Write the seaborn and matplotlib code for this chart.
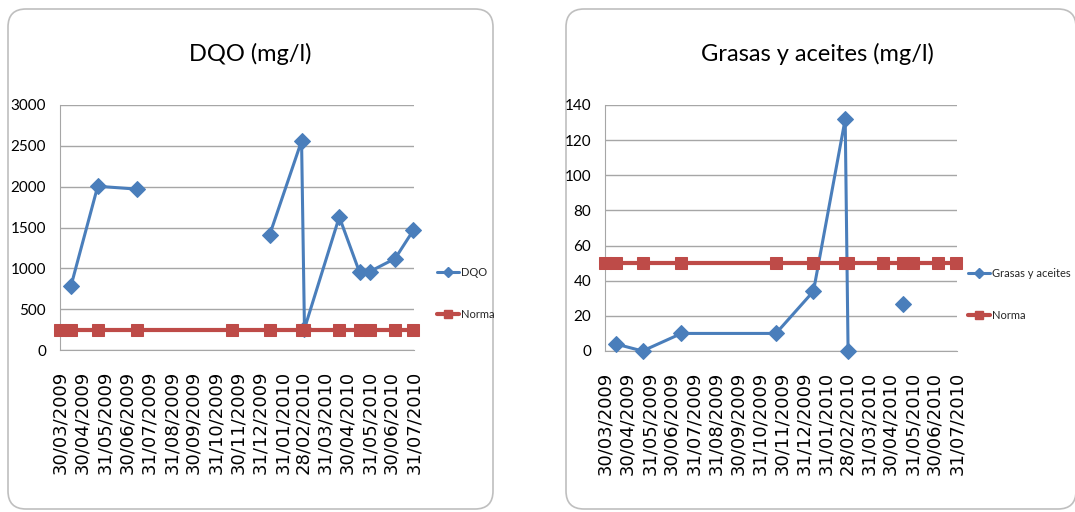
import numpy as np
import pandas as pd
import matplotlib
matplotlib.use("Agg")
import matplotlib.pyplot as plt
from matplotlib.patches import FancyBboxPatch
from matplotlib.lines import Line2D
import seaborn as sns

# --- datos ---
fechas = pd.to_datetime([
    "2009-03-30", "2009-04-14", "2009-05-21", "2009-07-14", "2009-11-22",
    "2010-01-13", "2010-02-26", "2010-03-02", "2010-04-19", "2010-05-17",
    "2010-05-31", "2010-07-05", "2010-07-30",
])
dqo = [np.nan, 780, 2005, 1970, np.nan, 1410, 2560, 260, 1630, 950, 960, 1120, 1465]
norma_dqo = [250, 250, 250, 250, 250, 250, 250, 250, 250, 250, 250, 250, 250]
grasas = [np.nan, 4, 0, 10, 10, 34, 132, 0, np.nan, 27, np.nan, np.nan, np.nan]
norma_grasas = [50, 50, 50, 50, 50, 50, 50, 50, 50, 50, 50, 50, 50]

etiquetas_x = [
    "30/03/2009", "30/04/2009", "31/05/2009", "30/06/2009", "31/07/2009",
    "31/08/2009", "30/09/2009", "31/10/2009", "30/11/2009", "31/12/2009",
    "31/01/2010", "28/02/2010", "31/03/2010", "30/04/2010", "31/05/2010",
    "30/06/2010", "31/07/2010",
]

AZUL = "#4A7EBB"
ROJO = "#BE4B48"
GRIS = "#A6A6A6"
ESTRECHA = ["Lato", "DejaVu Sans"]

sns.set_style("white")
plt.rcParams["font.family"] = ["DejaVu Sans"]


def tramos(valores):
    # separa la serie en tramos donde hay huecos (Excel no une los vacios)
    df = pd.DataFrame({"fecha": fechas, "valor": valores})
    df["tramo"] = df["valor"].isna().cumsum()
    return df.dropna()


def panel(ax, serie, norma, nombre, ymax, paso, x_leyenda):
    sns.lineplot(data=tramos(serie), x="fecha", y="valor", units="tramo",
                 estimator=None, color=AZUL, lw=2.2, marker="D", markersize=8,
                 markeredgecolor=AZUL, ax=ax, legend=False, clip_on=False, zorder=3)
    sns.lineplot(data=tramos(norma), x="fecha", y="valor", units="tramo",
                 estimator=None, color=ROJO, lw=3, marker="s", markersize=8,
                 markeredgecolor=ROJO, ax=ax, legend=False, clip_on=False, zorder=4)

    ticks = pd.to_datetime(etiquetas_x, format="%d/%m/%Y")
    ax.set_xlim(ticks[0], ticks[-1])
    ax.set_xticks(ticks)
    ax.set_xticklabels(etiquetas_x, rotation=90, fontsize=13, color="black")
    ax.tick_params(axis="x", length=0, pad=15)

    ax.set_ylim(0, ymax)
    ax.set_yticks(np.arange(0, ymax + 1, paso))
    ax.set_yticklabels([str(v) for v in np.arange(0, ymax + 1, paso)],
                       family=ESTRECHA, fontsize=11, color="black")
    ax.tick_params(axis="y", length=0, pad=10)

    ax.grid(axis="y", color=GRIS, lw=1)
    ax.grid(axis="x", visible=False)
    for lado in ["top", "right"]:
        ax.spines[lado].set_visible(False)
    for lado in ["left", "bottom"]:
        ax.spines[lado].set_color(GRIS)
    ax.set_xlabel("")
    ax.set_ylabel("")
    ax.set_facecolor("none")

    handles = [
        Line2D([], [], color=AZUL, lw=2.2, marker="D", markersize=5),
        Line2D([], [], color=ROJO, lw=3, marker="s", markersize=6),
    ]
    ax.legend(handles, [nombre, "Norma"], loc="center left",
              bbox_to_anchor=(x_leyenda, 0.23), frameon=False, borderpad=0,
              labelspacing=2.8, handlelength=2.0, handletextpad=0.15,
              prop={"family": ESTRECHA, "size": 8})


fig = plt.figure(figsize=(10.75, 5.12), dpi=100)

# marcos redondeados de cada grafico
for x0, x1 in [(0.08, 4.93), (5.66, 10.76)]:
    caja = FancyBboxPatch((x0, 0.03), x1 - x0, 5.0, boxstyle="round,pad=0,rounding_size=0.18",
                          transform=fig.dpi_scale_trans, facecolor="white",
                          edgecolor="#BFBFBF", lw=1.2, zorder=-5)
    fig.patches.append(caja)

ax1 = fig.add_axes([60 / 1075, 162 / 512, 354 / 1075, 245 / 512])
ax2 = fig.add_axes([605 / 1075, 161 / 512, 352 / 1075, 246 / 512])

panel(ax1, dqo, norma_dqo, "DQO", 3000, 500, 1.05)
panel(ax2, grasas, norma_grasas, "Grasas y aceites", 140, 20, 1.015)

fig.text(250 / 1075, 1 - 54 / 512, "DQO (mg/l)", ha="center", va="center",
         family=ESTRECHA, fontsize=17, color="black")
fig.text(817 / 1075, 1 - 54 / 512, "Grasas y aceites (mg/l)", ha="center", va="center",
         family=ESTRECHA, fontsize=17, color="black")

fig.savefig("out.png", dpi=100)
